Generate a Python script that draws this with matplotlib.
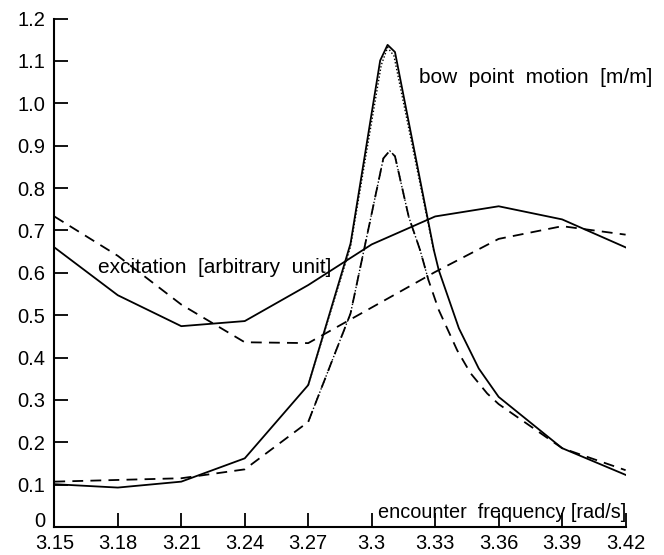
import matplotlib
matplotlib.use("Agg")
import matplotlib.pyplot as plt

plt.rcParams['font.family'] = ['Liberation Sans', 'DejaVu Sans']

# excitation curves (on tick frequencies)
freq_exc = [3.15, 3.18, 3.21, 3.24, 3.27, 3.30, 3.33, 3.36, 3.39, 3.42]
exc_solid = [0.660, 0.547, 0.474, 0.486, 0.571, 0.667, 0.733, 0.757, 0.726, 0.660]
exc_dashed = [0.733, 0.640, 0.525, 0.436, 0.434, 0.518, 0.602, 0.680, 0.710, 0.690]

# bow point motion, solid curve
freq_bow_s = [3.15, 3.18, 3.21, 3.24, 3.27, 3.29, 3.304, 3.3075, 3.311, 3.3294,
              3.3317, 3.3412, 3.3506, 3.36, 3.39, 3.42]
bow_solid = [0.101, 0.093, 0.107, 0.162, 0.335, 0.669, 1.101, 1.138, 1.121, 0.653,
             0.606, 0.469, 0.374, 0.307, 0.186, 0.123]

# bow point motion, dashed curve
freq_bow_d = [3.15, 3.18, 3.21, 3.24, 3.27, 3.29, 3.3055, 3.3085, 3.311, 3.3175,
              3.3229, 3.3268, 3.3317, 3.3404, 3.3467, 3.3546, 3.36, 3.39, 3.42]
bow_dashed = [0.107, 0.111, 0.115, 0.136, 0.248, 0.504, 0.870, 0.888, 0.875, 0.732,
              0.653, 0.583, 0.512, 0.417, 0.363, 0.315, 0.290, 0.186, 0.134]

# dotted curves near resonance
freq_dot_hi = [3.27, 3.29, 3.3045, 3.3075, 3.3105, 3.3294]
bow_dot_hi = [0.335, 0.662, 1.090, 1.132, 1.112, 0.650]
freq_dot_lo = [3.27, 3.29, 3.3055, 3.3085, 3.311, 3.3175, 3.3229, 3.3268]
bow_dot_lo = [0.248, 0.504, 0.870, 0.888, 0.875, 0.732, 0.653, 0.583]

xticks = [3.15, 3.18, 3.21, 3.24, 3.27, 3.30, 3.33, 3.36, 3.39, 3.42]
xticklabels = ['3.15', '3.18', '3.21', '3.24', '3.27', '3.3', '3.33', '3.36', '3.39', '3.42']
yticks = [0, 0.1, 0.2, 0.3, 0.4, 0.5, 0.6, 0.7, 0.8, 0.9, 1.0, 1.1, 1.2]
yticklabels = ['0', '0.1', '0.2', '0.3', '0.4', '0.5', '0.6', '0.7', '0.8', '0.9', '1.0', '1.1', '1.2']

fig = plt.figure(figsize=(6.64, 5.55), dpi=100)
ax = fig.add_axes([0.0818, 0.0505, 0.8604, 0.9160])

lw = 1.3
ax.plot(freq_exc, exc_solid, color='black', lw=lw, ls='-')
ax.plot(freq_exc, exc_dashed, color='black', lw=lw, ls=(0, (6, 4)))
ax.plot(freq_bow_s, bow_solid, color='black', lw=lw, ls='-')
ax.plot(freq_bow_d, bow_dashed, color='black', lw=lw, ls=(0, (6, 4)))
ax.plot(freq_dot_hi, bow_dot_hi, color='black', lw=1.0, ls=(0, (1, 1.5)))
ax.plot(freq_dot_lo, bow_dot_lo, color='black', lw=1.0, ls=(0, (1, 1.5)))

ax.set_xlim(3.15, 3.42)
ax.set_ylim(0, 1.2)
ax.set_xticks(xticks)
ax.set_xticklabels(xticklabels)
ax.set_yticks(yticks)
ax.set_yticklabels(yticklabels)
ax.tick_params(direction='in', length=9.8, width=1.3, labelsize=14.5)
ax.tick_params(axis='x', pad=5)
ax.tick_params(axis='y', pad=6.5)
ax.yaxis.get_major_ticks()[0].label1.set_verticalalignment('baseline')
for s in ['top', 'right']:
    ax.spines[s].set_visible(False)
for s in ['left', 'bottom']:
    ax.spines[s].set_linewidth(1.5)

fs = 15
ax.text(3.3222, 1.06, 'bow  point  motion  [m/m]', fontsize=fs, va='center', ha='left')
ax.text(3.1708, 0.612, 'excitation  [arbitrary  unit]', fontsize=fs, va='center', ha='left')
ax.text(3.4205, 0.033, 'encounter  frequency [rad/s]', fontsize=14.3, va='center', ha='right')

fig.savefig('out.png', dpi=100)
